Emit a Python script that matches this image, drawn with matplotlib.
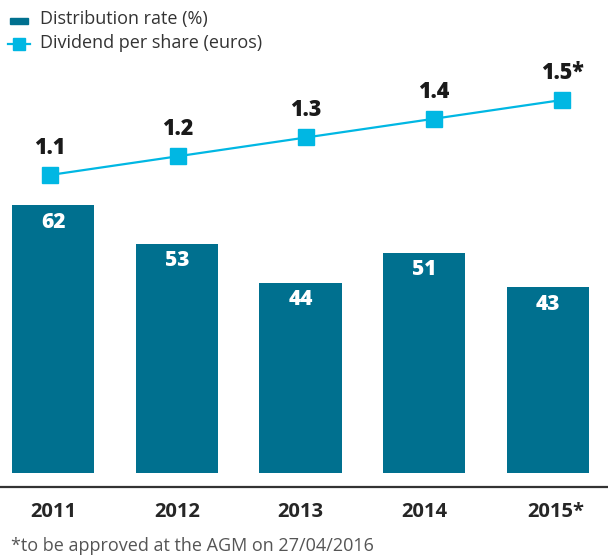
import matplotlib.pyplot as plt
from matplotlib.lines import Line2D
from matplotlib.patches import Rectangle

years = ['2011', '2012', '2013', '2014', '2015*']
distribution_rate = [62, 53, 44, 51, 43]
dividend = [1.1, 1.2, 1.3, 1.4, 1.5]
dividend_labels = ['1.1', '1.2', '1.3', '1.4', '1.5*']

teal = '#00708f'
cyan = '#00b7e3'

plt.rcParams['font.family'] = ['Open Sans', 'DejaVu Sans']

W, H = 608, 558
fig = plt.figure(figsize=(W / 100, H / 100), dpi=100)


def fx(px):
    return px / W


def fy(py):
    return (H - py) / H


# bars: value 0 sits at y=473 px
bottom = fy(473)
ax = fig.add_axes([0, bottom, 1, 1 - bottom])
ax.set_xlim(-53 / 123.75, (W - 53) / 123.75)
ax.set_ylim(0, 473 / 4.32)
x = list(range(len(years)))
ax.bar(x, distribution_rate, width=0.665, color=teal)
for xi, v in zip(x, distribution_rate):
    ax.text(xi, v - 3.9, str(v), ha='center', va='center', color='white',
            fontsize=15, fontweight='heavy')
ax.axis('off')

# line on its own scale
ax2 = fig.add_axes([0, bottom, 1, 1 - bottom])
ax2.set_xlim(-50 / 128, (W - 50) / 128)
ax2.set_ylim(1.1 - (473 - 175) / 187.5, 1.1 + 175 / 187.5)
ax2.plot(x, dividend, color=cyan, lw=1.6, marker='s', ms=11.5, mec=cyan, mfc=cyan)
for xi, v, lab in zip(x, dividend, dividend_labels):
    ax2.text(xi, v + 0.145, lab, ha='center', va='center', color='#1a1a1a',
             fontsize=15.5, fontweight='heavy')
ax2.axis('off')
ax2.patch.set_alpha(0)

# baseline
fig.add_artist(Line2D([0, 1], [fy(487)] * 2, color='#333333', lw=1.6))

for xi, lab in zip(x, years):
    px = 53 + 123.75 * xi
    if lab.endswith('*'):
        px += 8
    fig.text(fx(px), fy(512), lab, ha='center', va='center', color='#262626',
             fontsize=14.5, fontweight='bold')

fig.text(fx(11), fy(546), '*to be approved at the AGM on 27/04/2016',
         ha='left', va='center', color='#555555', fontsize=13)

# legend
fig.add_artist(Rectangle((fx(10), fy(24)), 18 / W, 6 / H, color=teal,
                         transform=fig.transFigure))
fig.add_artist(Line2D([fx(8), fx(30)], [fy(44)] * 2, color=cyan, lw=1.6,
                      transform=fig.transFigure))
fig.add_artist(Line2D([fx(19)], [fy(44)], marker='s', ms=8, color=cyan,
                      transform=fig.transFigure))
fig.text(fx(40), fy(19), 'Distribution rate (%)', ha='left', va='center',
         color='#333333', fontsize=13)
fig.text(fx(40), fy(43), 'Dividend per share (euros)', ha='left', va='center',
         color='#333333', fontsize=13)

fig.savefig('out.png', dpi=100)
